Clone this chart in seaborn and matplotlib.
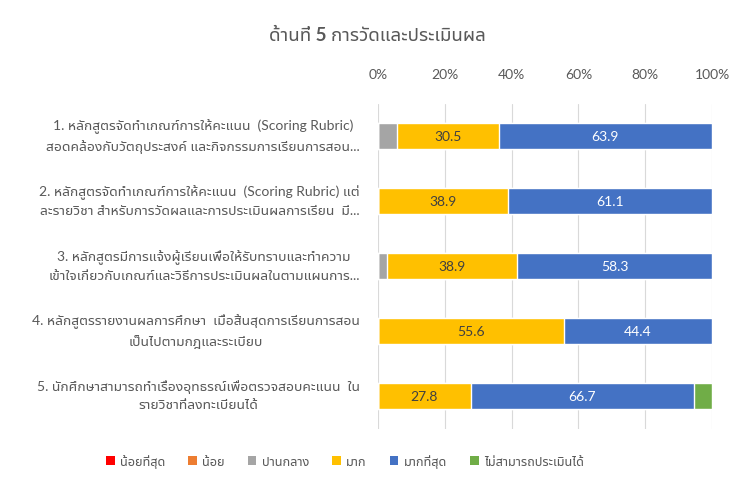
import matplotlib
matplotlib.use('Agg')
import matplotlib.pyplot as plt
import matplotlib.transforms as mtransforms
from matplotlib.patches import Patch
import numpy as np
import pandas as pd
import seaborn as sns

# data (percent)
items = [
    '1. หลักสูตรจัดทำเกณฑ์การให้คะแนน  (Scoring Rubric)\nสอดคล้องกับวัตถุประสงค์ และกิจกรรมการเรียนการสอน...',
    '2. หลักสูตรจัดทำเกณฑ์การให้คะแนน  (Scoring Rubric) แต่\nละรายวิชา สำหรับการวัดผลและการประเมินผลการเรียน  มี...',
    '3. หลักสูตรมีการแจ้งผู้เรียนเพื่อให้รับทราบและทำความ\nเข้าใจเกี่ยวกับเกณฑ์และวิธีการประเมินผลในตามแผนการ...',
    '4. หลักสูตรรายงานผลการศึกษา  เมื่อสิ้นสุดการเรียนการสอน\nเป็นไปตามกฎและระเบียบ',
    '5. นักศึกษาสามารถทำเรื่องอุทธรณ์เพื่อตรวจสอบคะแนน  ใน\nรายวิชาที่ลงทะเบียนได้',
]
levels = ['น้อยที่สุด', 'น้อย', 'ปานกลาง', 'มาก', 'มากที่สุด', 'ไม่สามารถประเมินได้']
least = [0, 0, 0, 0, 0]
little = [0, 0, 0, 0, 0]
medium = [5.6, 0, 2.8, 0, 0]
much = [30.5, 38.9, 38.9, 55.6, 27.8]
most = [63.9, 61.1, 58.3, 44.4, 66.7]
cannot = [0, 0, 0, 0, 5.5]
colors = ['#FF0000', '#ED7D31', '#A5A5A5', '#FFC000', '#4472C4', '#70AD47']

sns.set_theme(style='white')
plt.rcParams['font.family'] = ['Lato', 'Noto Sans Thai UI', 'DejaVu Sans']

series = [least, little, medium, much, most, cannot]
df = pd.DataFrame(dict(zip(levels, series)))
df['item'] = items
cum = df[levels].cumsum(axis=1)

fig = plt.figure(figsize=(7.35, 4.89), dpi=100)
ax = fig.add_axes([0.5143, 0.1207, 0.4544, 0.6646])

# stacked bars: draw cumulative totals from the outermost inward
for lev, col in reversed(list(zip(levels, colors))):
    sns.barplot(x=cum[lev], y=df['item'], orient='h', color=col,
                width=0.4, saturation=1, ax=ax, zorder=3)

# value labels for the two large segments
for i in range(len(items)):
    for lev, tc in [('มาก', '#404040'), ('มากที่สุด', 'white')]:
        v = df.loc[i, lev]
        if v > 0:
            mid = cum.loc[i, lev] - v / 2
            ax.text(mid, i, f'{v:.1f}', ha='center', va='center',
                    fontsize=10, color=tc, zorder=4)

ax.set_xlim(0, 100)
ax.set_ylim(4.5, -0.5)
ax.set_xticks(np.arange(0, 101, 20))
ax.set_xticklabels([f'{t}%' for t in range(0, 101, 20)])
ax.xaxis.tick_top()
ax.tick_params(axis='x', length=0, labelsize=10, labelcolor='#595959', pad=17)
ax.tick_params(axis='y', length=0, labelsize=10, labelcolor='#595959', pad=13)
shift = mtransforms.ScaledTranslation(0, 0.05, fig.dpi_scale_trans)
for lab in ax.get_yticklabels():
    lab.set_multialignment('center')
    lab.set_linespacing(1.5)
    lab.set_transform(lab.get_transform() + shift)
ax.set_xlabel('')
ax.set_ylabel('')
ax.grid(axis='x', color='#D9D9D9', linewidth=0.8, zorder=0)
for s in ax.spines.values():
    s.set_visible(False)

fig.text(0.513, 0.928, 'ด้านที่ 5 การวัดและประเมินผล', ha='center', va='center',
         fontsize=13.5, color='#595959', fontweight='bold')

handles = [Patch(facecolor=c, edgecolor='none', label=l) for l, c in zip(levels, colors)]
fig.legend(handles=handles, loc='center', bbox_to_anchor=(0.469, 0.055), ncol=6,
           frameon=False, fontsize=9.2, labelcolor='#595959', handlelength=0.7,
           handleheight=0.7, handletextpad=0.4, columnspacing=1.8)

fig.savefig('out.png', dpi=100)
